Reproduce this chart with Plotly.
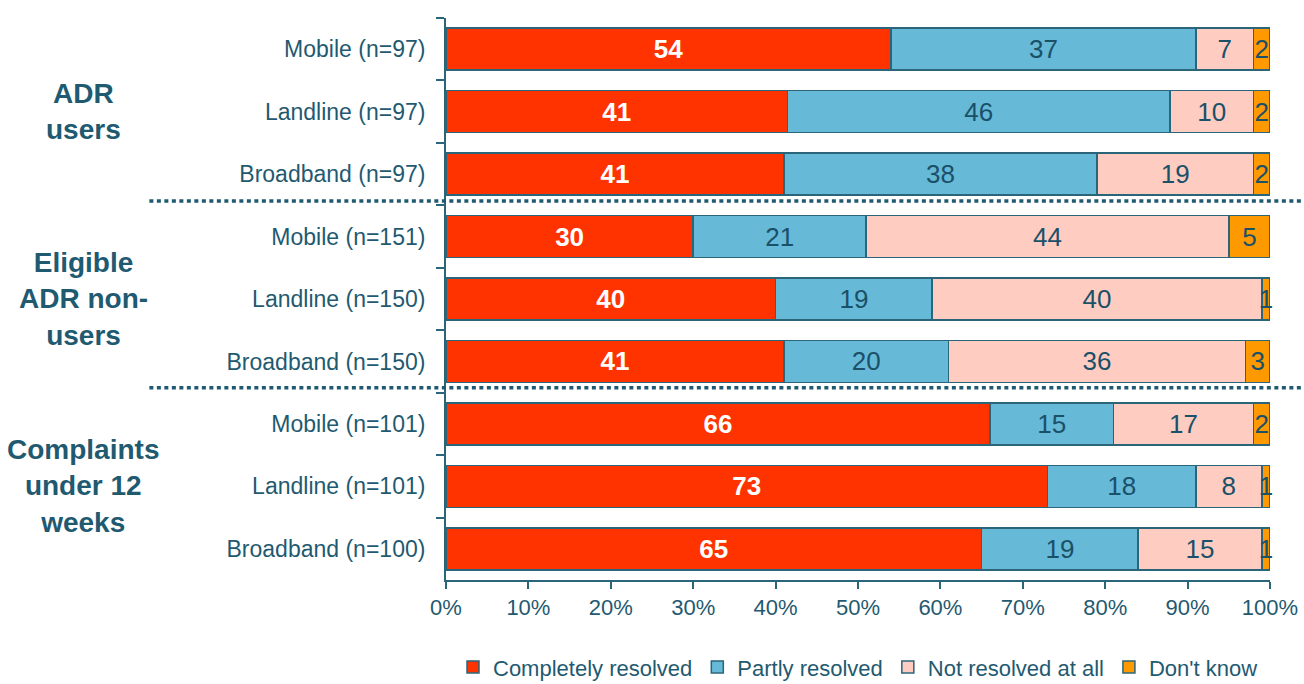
import plotly.graph_objects as go

# Row labels, top to bottom
categories = [
    "Mobile (n=97)", "Landline (n=97)", "Broadband (n=97)",
    "Mobile (n=151)", "Landline (n=150)", "Broadband (n=150)",
    "Mobile (n=101)", "Landline (n=101)", "Broadband (n=100)",
]

completely_resolved = [54, 41, 41, 30, 40, 41, 66, 73, 65]
partly_resolved = [37, 46, 38, 21, 19, 20, 15, 18, 19]
not_resolved = [7, 10, 19, 44, 40, 36, 17, 8, 15]
dont_know = [2, 2, 2, 5, 1, 3, 2, 1, 1]

series_names = ["Completely resolved", "Partly resolved", "Not resolved at all", "Don't know"]
series_values = [completely_resolved, partly_resolved, not_resolved, dont_know]
series_colors = ["#FF3300", "#66B9D7", "#FFCCC2", "#FF9900"]
label_colors = ["#FFFFFF", "#1A5068", "#1A5068", "#1A5068"]
label_weights = ["bold", "normal", "normal", "normal"]

group_labels = ["ADR<br>users", "Eligible<br>ADR non-<br>users", "Complaints<br>under 12<br>weeks"]
group_centers = [1, 4, 7]
separators = [2.43, 5.42]

x_ticks = [0, 10, 20, 30, 40, 50, 60, 70, 80, 90, 100]

TEAL = "#1F5A70"
FONT = "Liberation Sans, Arial, sans-serif"

fig = go.Figure()
for name, vals, col, lc, lw in zip(series_names, series_values, series_colors, label_colors, label_weights):
    fig.add_trace(go.Bar(
        y=categories,
        x=vals,
        name=name,
        orientation="h",
        marker=dict(color=col, line=dict(color="#2B6579", width=1.5)),
        text=[str(v) for v in vals],
        texttemplate="%{text}",
        textposition="inside",
        insidetextanchor="middle",
        textfont=dict(family=FONT, size=26, color=lc, weight=lw),
        cliponaxis=False,
    ))

# Group headings on the left
for txt, c in zip(group_labels, group_centers):
    fig.add_annotation(
        x=-0.44, xref="paper", y=c, yref="y",
        text="<b>" + txt + "</b>", showarrow=False,
        font=dict(family=FONT, size=28, color=TEAL),
        xanchor="center", yanchor="middle", align="center",
    )

# Dotted dividers between the groups
for s in separators:
    fig.add_shape(
        type="line", xref="paper", x0=-0.36, x1=1.045, yref="y", y0=s, y1=s,
        line=dict(color=TEAL, width=3.5, dash="4px,3.5px"),
    )

fig.update_layout(
    barmode="stack",
    barnorm="percent",
    bargap=0.327,
    width=1304, height=684,
    margin=dict(l=446, r=34, t=18, b=104, autoexpand=False),
    paper_bgcolor="white",
    plot_bgcolor="white",
    font=dict(family=FONT, color=TEAL),
    uniformtext=dict(minsize=26, mode="show"),
    legend=dict(
        orientation="h", x=0.5, xanchor="center", y=-0.155, yanchor="middle",
        font=dict(family=FONT, size=22, color=TEAL),
        traceorder="normal", itemwidth=30,
    ),
    xaxis=dict(
        range=[0, 100], tickvals=x_ticks, ticktext=[f"{t}%" for t in x_ticks],
        showgrid=False, zeroline=False,
        showline=True, linecolor="#2B6579", linewidth=2,
        ticks="outside", ticklen=7, tickcolor="#2B6579", tickwidth=2,
        tickfont=dict(family=FONT, size=22, color=TEAL),
        fixedrange=True,
    ),
    yaxis=dict(
        type="category", categoryorder="array", categoryarray=categories,
        autorange="reversed",
        showgrid=False, zeroline=False,
        showline=True, linecolor="#2B6579", linewidth=2,
        ticks="outside", ticklen=8, tickcolor="#2B6579", tickwidth=2,
        tickson="boundaries",
        ticklabelstandoff=14,
        tickfont=dict(family=FONT, size=23, color=TEAL),
    ),
)

fig.write_html("out.html")
